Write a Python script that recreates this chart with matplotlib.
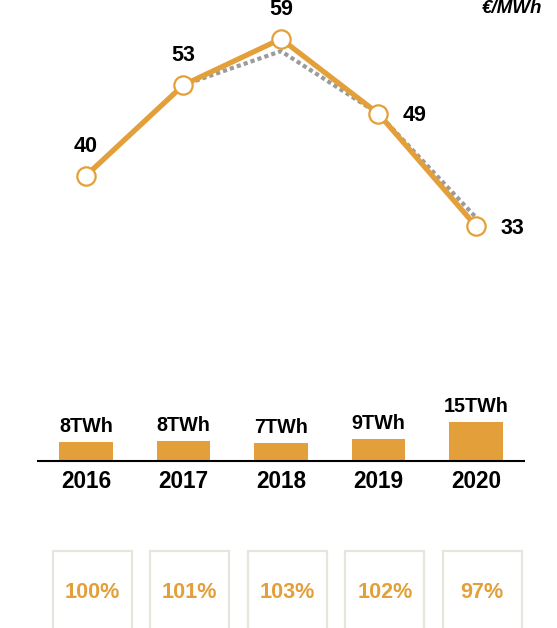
import matplotlib
matplotlib.use("Agg")
import matplotlib.pyplot as plt
from matplotlib.patches import Rectangle
import matplotlib.transforms as mtransforms

plt.rcParams['font.family'] = ['Liberation Sans', 'DejaVu Sans']

years = ['2016', '2017', '2018', '2019', '2020']
price = [40, 52.6, 59, 48.6, 33]          # €/MWh, orange line
price_ref = [40, 52.6, 57.3, 48.6, 34.2]  # grey dotted line
volume = [7.3, 7.9, 7.0, 8.5, 15.0]       # TWh, bar heights
volume_labels = ['8TWh', '8TWh', '7TWh', '9TWh', '15TWh']
ratio = ['100%', '101%', '103%', '102%', '97%']

orange = '#E3A03A'
grey = '#9B9B9B'
box_edge = '#E8E5DF'

fig = plt.figure(figsize=(5.57, 6.28), dpi=100)
x = list(range(len(years)))
xlim = (-0.882, 4.831)

# price line
ax = fig.add_axes([0, 0, 1, 1])
ax.set_xlim(xlim)
ax.set_ylim(-22.82, 64.40)
ax.axis('off')
ax.plot(x, price_ref, color=grey, lw=3, ls=(0, (1, 0.75)), dash_capstyle='butt', zorder=2)
ax.plot(x, price, color=orange, lw=3.8, zorder=3, solid_joinstyle='miter',
        marker='o', ms=13.2, mfc='white', mec=orange, mew=1.6)
for i, v in enumerate(price):
    if i < 3:
        ax.annotate(str(round(v)), (i, v), xytext=(0, 24), textcoords='offset pixels',
                    ha='center', va='baseline', fontsize=15.5, fontweight='bold')
    else:
        ax.annotate(str(round(v)), (i, v), xytext=(36.5, -7.5), textcoords='offset pixels',
                    ha='center', va='baseline', fontsize=15.5, fontweight='bold')
fig.text(542 / 557, 1 - 13 / 628, '€/MWh', ha='right', va='baseline',
         fontsize=13.5, fontweight='bold', fontstyle='italic')

# volume bars
bx = fig.add_axes([0, 0, 1, 1])
bx.set_xlim(xlim)
bx.set_ylim(-64.73, 178.68)
bx.axis('off')
bx.patch.set_alpha(0)
bx.bar(x, volume, width=0.55, color=orange)
bx.hlines(0, -0.5, 4.5, color='black', lw=1.5)
for i, v in enumerate(volume):
    bx.annotate(volume_labels[i], (i, v), xytext=(0, 10), textcoords='offset pixels',
                ha='center', va='baseline', fontsize=14.2, fontweight='bold')
    bx.annotate(years[i], (i, 0), xytext=(0, -27), textcoords='offset pixels',
                ha='center', va='baseline', fontsize=16.3, fontweight='bold')

# ratio boxes
trans = mtransforms.blended_transform_factory(bx.transData, bx.transAxes)
for i, r in enumerate(ratio):
    bx.add_patch(Rectangle((i + 0.065 - 0.405, -0.02), 0.81, 0.1234 + 0.02,
                           transform=trans, fill=False, ec=box_edge, lw=1.6, clip_on=False))
    bx.text(i + 0.065, 0.047, r, transform=trans, ha='center', va='baseline',
            fontsize=15.6, fontweight='bold', color=orange)

fig.savefig('out.png', dpi=100)
